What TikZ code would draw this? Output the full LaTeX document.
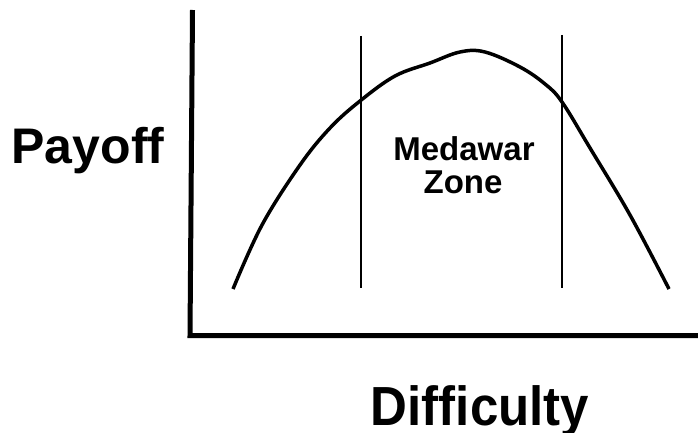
\documentclass[tikz,border=0pt]{standalone}
\usepackage{fontspec}
\setmainfont{Liberation Sans}
\begin{document}
\begin{tikzpicture}[x=1pt,y=-1pt,
  axisline/.style={line width=5pt},
  zoneline/.style={line width=1.8pt},
  curveline/.style={line width=3.5pt,line join=round},
  lbl/.style={font=\bfseries,inner sep=0pt,anchor=base}]
\useasboundingbox (0,0) rectangle (698,433);
\coordinate (top) at (192.5,10);
\coordinate (corner) at (190,335.5);
\coordinate (right) at (698,335.5);
\draw[axisline] (top) -- (corner) -- (right);
\coordinate (l1) at (361,36);
\coordinate (l2) at (361,288);
\coordinate (r1) at (562,35);
\coordinate (r2) at (562,288);
\draw[zoneline] (l1) -- (l2);
\draw[zoneline] (r1) -- (r2);
\draw[curveline] plot[smooth,tension=0.6] coordinates {(233,289) (262,225) (300,165) (330,128) (360,101) (395,76) (430,63) (460,52) (485,52) (520,67) (545,84) (562,102) (590,148) (630,215) (669,289)};
\node[lbl,font=\fontsize{50}{50}\selectfont\bfseries] (payoff) at (88,163) {Payoff};
\node[lbl,font=\fontsize{51}{51}\selectfont\bfseries] (difficulty) at (480,425) {\scalebox{1}[1.08]{Difficulty}};
\node[lbl,font=\fontsize{33}{33}\selectfont\bfseries] (medawar) at (464,160) {Medawar};
\node[lbl,font=\fontsize{33}{33}\selectfont\bfseries] (zone) at (463,193) {Zone};
\end{tikzpicture}
\end{document}
